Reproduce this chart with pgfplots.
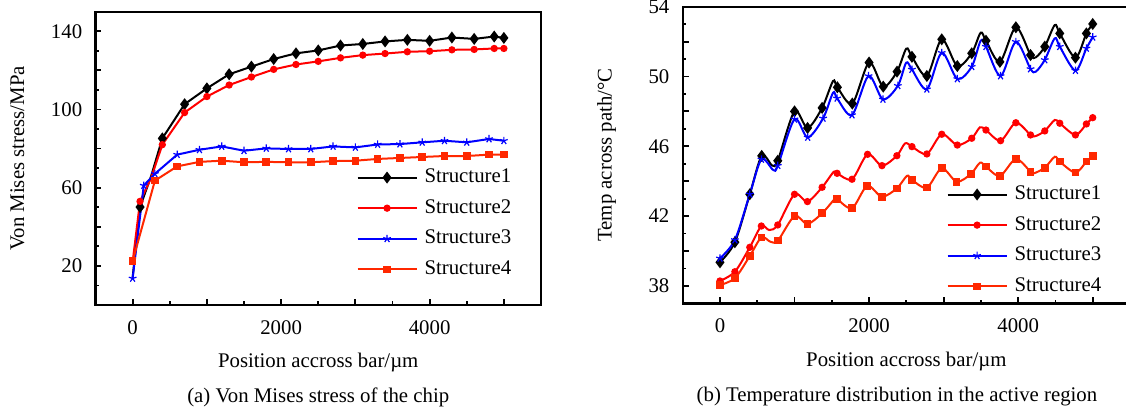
\documentclass[border=0pt]{standalone}
\usepackage{fontspec}
\setmainfont{Liberation Serif}
\usepackage{pgfplots}
\pgfplotsset{compat=1.18}
\definecolor{sfour}{RGB}{255,40,0}
\begin{document}
\fontsize{10.4}{12.5}\selectfont
\begin{tikzpicture}[x=1pt,y=1pt]
\pgfplotsset{
 common/.style={
  scale only axis,
  anchor=south west,
  tick pos=left, tick align=inside,
  axis line style={line width=1.2pt},
  every tick/.style={black, line width=0.9pt},
  major tick length=3pt, minor tick length=1.8pt,
  /pgf/number format/assume math mode=true,
  /pgf/number format/1000 sep={},
  xmin=-500, xmax=5500,
  xtick={0,1000,2000,3000,4000,5000}, xticklabels={0,,2000,,4000,},
  minor xtick={500,1500,2500,3500,4500},
  xticklabel style={yshift=-4pt},
  yticklabel style={xshift=-3pt},
  xlabel={Position accross bar/µm},
  every axis x label/.style={at={(axis description cs:0.5,0)}, anchor=center, yshift=-28.5pt},
  every axis y label/.style={at={(axis description cs:0,0.5)}, anchor=center, rotate=90, yshift=39pt},
  legend style={draw=none, fill=none, inner sep=0pt, outer sep=0pt, row sep=6.3pt, column sep=3.5pt,
    nodes={inner sep=0pt, text height=7pt, text depth=2pt}},
  legend cell align=left,
  legend image code/.code={\draw[line width=1pt, mark indices={2}] plot coordinates {(0pt,0pt) (14.75pt,0pt) (29.5pt,0pt)};},
 },
 s1/.style={black, line width=1pt, mark=diamond*, mark size=2.2pt, mark options={solid}},
 s2/.style={red, line width=1pt, mark=*, mark size=1.3pt},
 s3/.style={blue, line width=1pt, mark=star, mark size=2pt, mark options={line width=0.6pt}},
 s4/.style={sfour, line width=1pt, mark=square*, mark size=1.4pt},
}

\begin{axis}[common, name=A, at={(47.75pt,52pt)}, width=222.75pt, height=146.65pt,
  ymin=0, ymax=150, ytick={20,40,60,80,100,120,140}, yticklabels={20,,60,,100,,140},
  minor ytick={10,30,50,70,90,110,130},
  ylabel={Von Mises stress/MPa},
  legend style={at={(rel axis cs:0.586,0.278)}, anchor=west}]
\addplot[s1, mark indices={2,4,5,6,7,8,9,10,11,12,13,14,15,16,17,18,19,20}] coordinates {
(0,14) (100,50.1) (250,66) (400,85.2) (700,102.7) (1000,110.8) (1300,118.0) (1600,121.9)
(1900,125.8) (2200,128.7) (2500,130.2) (2800,132.7) (3100,133.5) (3400,134.8) (3700,135.6)
(4000,135.1) (4300,136.8) (4600,136.1) (4870,137.3) (5000,136.6)};
\addlegendentry{Structure1}
\addplot[s2, mark indices={2,4,5,6,7,8,9,10,11,12,13,14,15,16,17,18,19,20}] coordinates {
(0,22) (100,53.0) (250,65) (400,82.0) (700,98.4) (1000,106.6) (1300,112.5) (1600,116.6)
(1900,120.5) (2200,123.0) (2500,124.6) (2800,126.4) (3100,127.8) (3400,128.6) (3700,129.5)
(4000,129.8) (4300,130.5) (4600,130.7) (4870,131.2) (5000,131.2)};
\addlegendentry{Structure2}
\addplot[s3] coordinates {
(0,13.6) (150,61.1) (300,67.1) (600,76.9) (900,79.4) (1200,81.1) (1500,78.9) (1800,80.1)
(2100,79.8) (2400,79.8) (2700,81.1) (3000,80.6) (3300,82.1) (3600,82.3) (3900,83.2)
(4200,84.0) (4500,83.2) (4800,84.9) (5000,84.0)};
\addlegendentry{Structure3}
\addplot[s4] coordinates {
(0,22.4) (300,63.6) (600,70.9) (900,73.2) (1200,73.8) (1500,73.0) (1800,73.2) (2100,73.0)
(2400,73.0) (2700,73.6) (3000,73.8) (3300,74.7) (3600,75.2) (3900,75.7) (4200,76.2)
(4500,76.2) (4800,76.9) (5000,76.9)};
\addlegendentry{Structure4}
\end{axis}
\path (A.south) ++(0pt,-46pt) node {(a) Von Mises stress of the chip};

\begin{axis}[common, name=B, at={(341.35pt,52.85pt)}, width=223.65pt, height=148.3pt,
  ymin=37, ymax=54, ytick={38,40,42,44,46,48,50,52,54}, yticklabels={38,,42,,46,,50,,54},
  minor ytick={39,41,43,45,47,49,51,53},
  ylabel={Temp across path/°C},
  every axis y label/.append style={yshift=-1pt},
  every axis x label/.append style={yshift=-0.8pt},
  legend style={at={(rel axis cs:0.590,0.212)}, anchor=west}]
\addplot[s1, smooth, mark indices={1,2,3,4,6,7,8,9,11,12,13,14,15,17,18,19,20,21,23,24,25,26,28,30,31,32,33}] coordinates {
(0,39.35) (200,40.5) (400,43.25) (560,45.45) (700,44.9) (775,45.17) (1000,48.0) (1175,47.05)
(1370,48.2) (1517,49.74) (1575,49.38) (1775,48.45) (2000,50.8) (2190,49.42) (2375,50.28)
(2500,51.6) (2575,51.13) (2775,50.03) (2975,52.13) (3184,50.6) (3377,51.33) (3497,52.51)
(3568,52.05) (3755,50.84) (3969,52.82) (4166,51.23) (4237,51.1) (4357,51.71) (4491,52.95)
(4558,52.47) (4768,51.08) (4915,52.47) (5000,53.01)};
\addlegendentry{Structure1}
\addplot[s2, smooth, mark indices={1,2,3,4,6,7,8,9,11,12,13,14,15,17,18,19,20,21,23,24,25,26,28,30,31,32,33}] coordinates {
(0,38.28) (200,38.81) (400,40.21) (555,41.43) (660,41.2) (775,41.49) (1000,43.25) (1173,42.83)
(1370,43.65) (1526,44.54) (1571,44.45) (1771,44.11) (1980,45.54) (2173,44.89) (2373,45.46)
(2484,46.17) (2575,45.98) (2775,45.56) (2975,46.69) (3184,46.07) (3377,46.46) (3488,47.09)
(3568,46.93) (3764,46.32) (3969,47.35) (4166,46.65) (4230,46.58) (4357,46.88) (4491,47.51)
(4558,47.32) (4768,46.65) (4915,47.28) (5000,47.64)};
\addlegendentry{Structure2}
\addplot[s3, smooth, mark indices={1,2,3,4,6,7,8,9,11,12,13,14,15,17,18,19,20,21,23,24,25,26,28,30,31,32,33}] coordinates {
(0,39.58) (200,40.63) (400,43.25) (556,45.25) (715,44.64) (776,44.89) (1000,47.55) (1177,46.51)
(1383,47.6) (1517,49.07) (1571,48.75) (1771,47.79) (1993,50.03) (2186,48.69) (2386,49.47)
(2498,50.79) (2575,50.4) (2775,49.27) (2975,51.36) (3184,49.86) (3377,50.56) (3497,52.05)
(3568,51.71) (3764,50.03) (3969,51.99) (4166,50.43) (4237,50.28) (4357,50.95) (4491,52.19)
(4558,51.71) (4768,50.34) (4915,51.61) (5000,52.25)};
\addlegendentry{Structure3}
\addplot[s4, smooth, mark indices={1,2,3,4,6,7,8,9,11,12,13,14,15,17,18,19,20,21,23,24,25,26,28,30,31,32,33}] coordinates {
(0,38.05) (200,38.44) (400,39.71) (556,40.78) (676,40.53) (776,40.59) (1000,42.0) (1173,41.55)
(1370,42.16) (1547,43.02) (1571,42.98) (1771,42.45) (1975,43.73) (2173,43.11) (2373,43.59)
(2510,44.31) (2575,44.07) (2775,43.63) (2975,44.74) (3175,43.97) (3366,44.41) (3488,45.06)
(3568,44.83) (3755,44.3) (3969,45.27) (4166,44.54) (4210,44.45) (4357,44.77) (4491,45.4)
(4558,45.12) (4768,44.49) (4915,45.12) (5000,45.44)};
\addlegendentry{Structure4}
\end{axis}
\path (B.south) ++(-4.7pt,-46.8pt) node {(b) Temperature distribution in the active region};

\pgfresetboundingbox
\path[use as bounding box] (0,0) rectangle (563,204.5);
\end{tikzpicture}
\end{document}
